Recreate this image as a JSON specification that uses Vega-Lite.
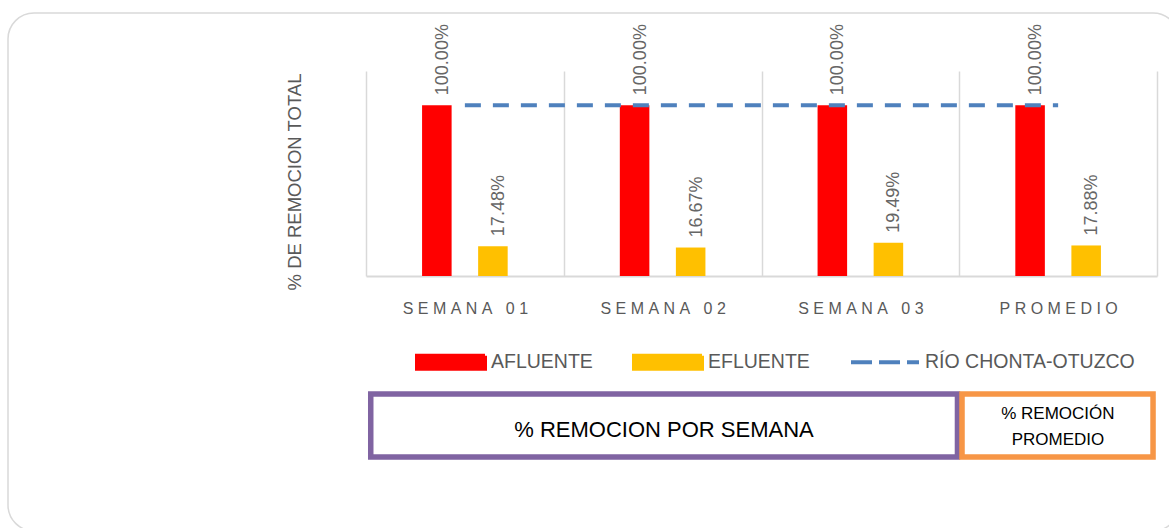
{
  "$schema": "https://vega.github.io/schema/vega-lite/v6.json",
  "width": 791,
  "height": 205,
  "autosize": {"type": "none"},
  "padding": {"left": 366, "top": 71, "right": 12, "bottom": 252},
  "background": "white",
  "config": {"view": {"stroke": null}, "font": "Liberation Sans"},
  "datasets": {
    "barras": [
      {"semana": "SEMANA 01", "serie": "AFLUENTE", "valor": 1.0},
      {"semana": "SEMANA 01", "serie": "EFLUENTE", "valor": 0.1748},
      {"semana": "SEMANA 02", "serie": "AFLUENTE", "valor": 1.0},
      {"semana": "SEMANA 02", "serie": "EFLUENTE", "valor": 0.1667},
      {"semana": "SEMANA 03", "serie": "AFLUENTE", "valor": 1.0},
      {"semana": "SEMANA 03", "serie": "EFLUENTE", "valor": 0.1949},
      {"semana": "PROMEDIO", "serie": "AFLUENTE", "valor": 1.0},
      {"semana": "PROMEDIO", "serie": "EFLUENTE", "valor": 0.1788}
    ],
    "rio": [
      {"semana": "SEMANA 01", "serie": "RÍO CHONTA-OTUZCO", "valor": 1.0},
      {"semana": "SEMANA 02", "serie": "RÍO CHONTA-OTUZCO", "valor": 1.0},
      {"semana": "SEMANA 03", "serie": "RÍO CHONTA-OTUZCO", "valor": 1.0},
      {"semana": "PROMEDIO", "serie": "RÍO CHONTA-OTUZCO", "valor": 1.0}
    ],
    "cajas": [
      {"caja": "% REMOCION POR SEMANA", "desde": 0.024, "hasta": 2.991, "centro": 1.507},
      {"caja": "% REMOCIÓN\nPROMEDIO", "desde": 3.014, "hasta": 3.98, "centro": 3.499}
    ],
    "marco": [{"elemento": "borde"}]
  },
  "layer": [
    {
      "layer": [
        {
          "data": {"name": "barras"},
          "mark": {"type": "bar"},
          "encoding": {
            "x": {
              "field": "semana", "type": "nominal",
              "sort": ["SEMANA 01", "SEMANA 02", "SEMANA 03", "PROMEDIO"],
              "scale": {"paddingInner": 0, "paddingOuter": 0},
              "axis": {
                "title": null, "tickBand": "extent", "grid": true, "gridColor": "#d9d9d9", "gridWidth": 1.5,
                "ticks": false, "tickSize": 0, "domain": true, "domainColor": "#d9d9d9", "domainWidth": 2,
                "labelAngle": 0, "labelFont": "Liberation Sans", "labelFontSize": 16, "labelColor": "#595959",
                "labelPadding": 24.5, "labelBaseline": "top",
                "labelExpr": "join(split(datum.label, ''), '\u00a0')"
              }
            },
            "xOffset": {
              "field": "serie", "type": "nominal", "sort": ["AFLUENTE", "EFLUENTE"],
              "scale": {"domain": ["AFLUENTE", "EFLUENTE"], "paddingInner": 0.473, "paddingOuter": 1.168}
            },
            "y": {
              "field": "valor", "type": "quantitative",
              "scale": {"domain": [0, 1.2], "nice": false},
              "axis": {
                "title": "% DE REMOCION TOTAL", "labels": false, "ticks": false, "domain": false, "grid": false,
                "titleFont": "Liberation Sans", "titleFontSize": 18.5, "titleFontWeight": "normal",
                "titleColor": "#595959", "titleX": -61.5, "titleY": 110.5
              }
            },
            "color": {
              "field": "serie", "type": "nominal",
              "scale": {"domain": ["AFLUENTE", "EFLUENTE", "RÍO CHONTA-OTUZCO"], "range": ["#ff0000", "#ffc000", "#4f81bd"]},
              "legend": {
                "title": null, "orient": "none", "legendX": 49, "legendY": 255, "direction": "horizontal",
                "symbolSize": 4624, "symbolStrokeWidth": 4, "labelFont": "Liberation Sans", "labelFontSize": 19.5, "labelColor": "#595959",
                "labelOffset": 4, "columnPadding": 33, "padding": 0, "labelLimit": 400,
                "encode": {
                  "symbols": {
                    "update": {
                      "shape": {"signal": "datum.value === 'RÍO CHONTA-OTUZCO' ? 'M-1,-0.19M1,0.19M-1,0H1' : 'M-1,-0.19H1V0.19H-1Z'"},
                      "fill": {"signal": "datum.value === 'AFLUENTE' ? '#ff0000' : (datum.value === 'EFLUENTE' ? '#ffc000' : 'transparent')"},
                      "stroke": {"signal": "datum.value === 'RÍO CHONTA-OTUZCO' ? '#4f81bd' : 'transparent'"},
                      "strokeDash": {"signal": "datum.value === 'RÍO CHONTA-OTUZCO' ? [21, 7] : [1, 0]"},
                      "strokeWidth": {"value": 4},
                      "opacity": {"value": 1}
                    }
                  }
                }
              }
            }
          }
        },
        {
          "data": {"name": "barras"},
          "mark": {"type": "text", "angle": 270, "align": "left", "baseline": "middle", "dx": 10, "dy": 6,
                   "font": "Liberation Sans", "fontSize": 18, "color": "#666666"},
          "encoding": {
            "x": {"field": "semana", "type": "nominal", "sort": ["SEMANA 01", "SEMANA 02", "SEMANA 03", "PROMEDIO"]},
            "xOffset": {"field": "serie", "type": "nominal", "sort": ["AFLUENTE", "EFLUENTE"]},
            "y": {"field": "valor", "type": "quantitative"},
            "text": {"field": "valor", "type": "quantitative", "format": ".2%"}
          }
        },
        {
          "data": {"name": "rio"},
          "mark": {"type": "line", "strokeDash": [16, 12], "strokeWidth": 4},
          "encoding": {
            "x": {"field": "semana", "type": "nominal", "sort": ["SEMANA 01", "SEMANA 02", "SEMANA 03", "PROMEDIO"]},
            "y": {"field": "valor", "type": "quantitative"},
            "color": {"field": "serie", "type": "nominal"}
          }
        }
      ]
    },
    {
      "layer": [
        {
          "data": {"name": "cajas"},
          "mark": {"type": "rect", "filled": false, "strokeWidth": 5.5},
          "encoding": {
            "x": {"field": "desde", "type": "quantitative", "scale": {"domain": [0, 4], "nice": false, "zero": false}, "axis": null},
            "x2": {"field": "hasta"},
            "y": {"datum": -0.6907, "type": "quantitative", "scale": {"domain": [0, 1.2], "nice": false}, "axis": null},
            "y2": {"datum": -1.0595},
            "stroke": {
              "field": "caja", "type": "nominal",
              "scale": {"domain": ["% REMOCION POR SEMANA", "% REMOCIÓN\nPROMEDIO"], "range": ["#8064a2", "#f79646"]},
              "legend": null
            }
          }
        },
        {
          "data": {"name": "cajas"},
          "transform": [{"filter": "datum.caja === '% REMOCION POR SEMANA'"}],
          "mark": {"type": "text", "font": "Liberation Sans", "fontSize": 22, "color": "#000000",
                   "align": "center", "baseline": "middle"},
          "encoding": {
            "x": {"field": "centro", "type": "quantitative", "scale": {"domain": [0, 4], "nice": false, "zero": false}},
            "y": {"datum": -0.8986, "type": "quantitative"},
            "text": {"field": "caja", "type": "nominal"}
          }
        },
        {
          "data": {"name": "cajas"},
          "transform": [{"filter": "datum.caja !== '% REMOCION POR SEMANA'"}],
          "mark": {"type": "text", "lineBreak": "\n", "lineHeight": 26, "font": "Liberation Sans", "fontSize": 17,
                   "color": "#000000", "align": "center", "baseline": "middle"},
          "encoding": {
            "x": {"field": "centro", "type": "quantitative", "scale": {"domain": [0, 4], "nice": false, "zero": false}},
            "y": {"datum": -0.8078, "type": "quantitative"},
            "text": {"field": "caja", "type": "nominal"}
          }
        },
        {
          "data": {"name": "marco"},
          "mark": {"type": "rect", "filled": false, "stroke": "#d9d9d9", "strokeWidth": 1.5, "cornerRadius": 26},
          "encoding": {
            "x": {"datum": -1.8104, "type": "quantitative", "scale": {"domain": [0, 4], "nice": false, "zero": false}},
            "x2": {"datum": 4.111},
            "y": {"datum": 1.5395, "type": "quantitative"},
            "y2": {"datum": -1.4927}
          }
        }
      ]
    }
  ],
  "resolve": {"scale": {"x": "independent", "y": "independent"}}
}
